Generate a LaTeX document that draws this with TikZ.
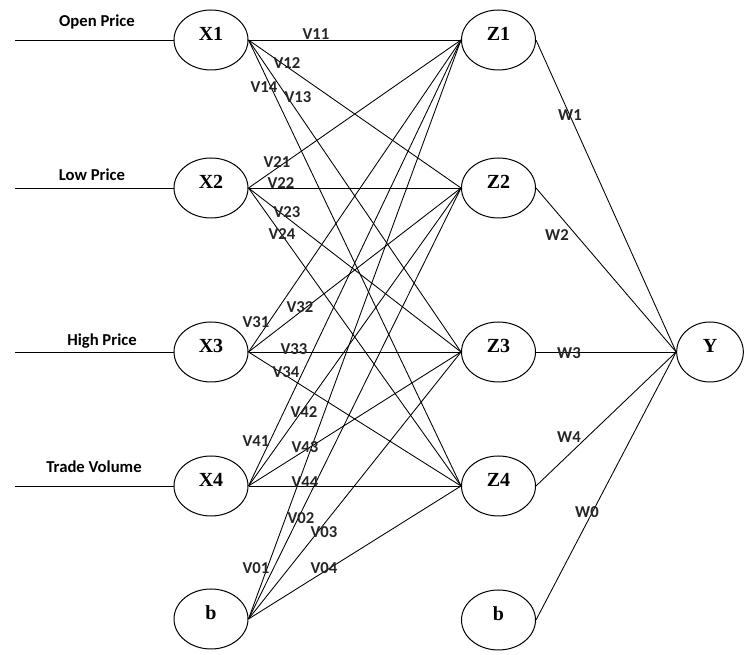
\documentclass[tikz,border=0pt]{standalone}
\usepackage{fontspec}
\setmainfont{Liberation Serif}
\newfontfamily\labfont{Carlito}
\usetikzlibrary{shapes.geometric}
\begin{document}
\begin{tikzpicture}[x=0.75pt,y=-0.75pt,
  neuron/.style={ellipse, draw, line width=0.75pt, minimum width=55.5pt, minimum height=45pt, inner sep=0pt,
    font=\fontsize{15}{16}\selectfont\bfseries, text height=10pt, text depth=9pt},
  wire/.style={line width=0.65pt},
  wlab/.style={font=\labfont\bfseries\fontsize{12.5}{13}\selectfont, inner sep=0pt, anchor=base, text=black!85},
  inlab/.style={font=\labfont\bfseries\fontsize{12.5}{13}\selectfont, inner sep=0pt, anchor=base}]
\useasboundingbox (0,0) rectangle (744,655);
% input layer
\node[neuron] (X1) at (211,40) {X1};
\node[neuron] (X2) at (211,188) {X2};
\node[neuron] (X3) at (211,352) {X3};
\node[neuron] (X4) at (211,486) {X4};
\node[neuron] (B1) at (211,619) {b};
% hidden layer
\node[neuron] (Z1) at (498.5,40) {Z1};
\node[neuron] (Z2) at (498.5,188) {Z2};
\node[neuron] (Z3) at (498.5,352) {Z3};
\node[neuron] (Z4) at (498.5,486) {Z4};
\node[neuron] (B2) at (498.5,620) {b};
% output
\node[neuron, minimum width=50pt] (Y) at (710,352) {Y};
% input lines
\coordinate (i1) at (15,40);
\coordinate (i2) at (15,188);
\coordinate (i3) at (15,352);
\coordinate (i4) at (15,486);
\draw[wire] (i1) -- (X1.west);
\draw[wire] (i2) -- (X2.west);
\draw[wire] (i3) -- (X3.west);
\draw[wire] (i4) -- (X4.west);
\node[inlab] at (97,26.5) {Open Price};
\node[inlab] at (92,180.5) {Low Price};
\node[inlab] at (102,345.5) {High Price};
\node[inlab] at (94,472.5) {Trade Volume};
% input -> hidden
\foreach \s in {X1,X2,X3,X4,B1}{
  \foreach \t in {Z1,Z2,Z3,Z4}{
    \draw[wire] (\s.east) -- (\t.west);
  }
}
% hidden -> output
\foreach \s in {Z1,Z2,Z3,Z4,B2}{
  \draw[wire] (\s.east) -- (Y.west);
}
% weight labels
\node[wlab] at (316,39.5) {V11};
\node[wlab] at (287,68.5) {V12};
\node[wlab] at (264,92.5) {V14};
\node[wlab] at (298,102.5) {V13};
\node[wlab] at (277,167.5) {V21};
\node[wlab] at (281,188.5) {V22};
\node[wlab] at (287,218) {V23};
\node[wlab] at (282,239.5) {V24};
\node[wlab] at (300,312.5) {V32};
\node[wlab] at (256,327.5) {V31};
\node[wlab] at (294,354.5) {V33};
\node[wlab] at (286,377.5) {V34};
\node[wlab] at (304,417.5) {V42};
\node[wlab] at (256,446.5) {V41};
\node[wlab] at (305,452.5) {V43};
\node[wlab] at (305,487.5) {V44};
\node[wlab] at (301,523.5) {V02};
\node[wlab] at (324,537.5) {V03};
\node[wlab] at (256,573.5) {V01};
\node[wlab] at (324,573.5) {V04};
\node[wlab] at (570,120.5) {W1};
\node[wlab] at (557,240.5) {W2};
\node[wlab] at (569,358.5) {W3};
\node[wlab] at (569,442.5) {W4};
\node[wlab] at (587,517.5) {W0};
\end{tikzpicture}
\end{document}
